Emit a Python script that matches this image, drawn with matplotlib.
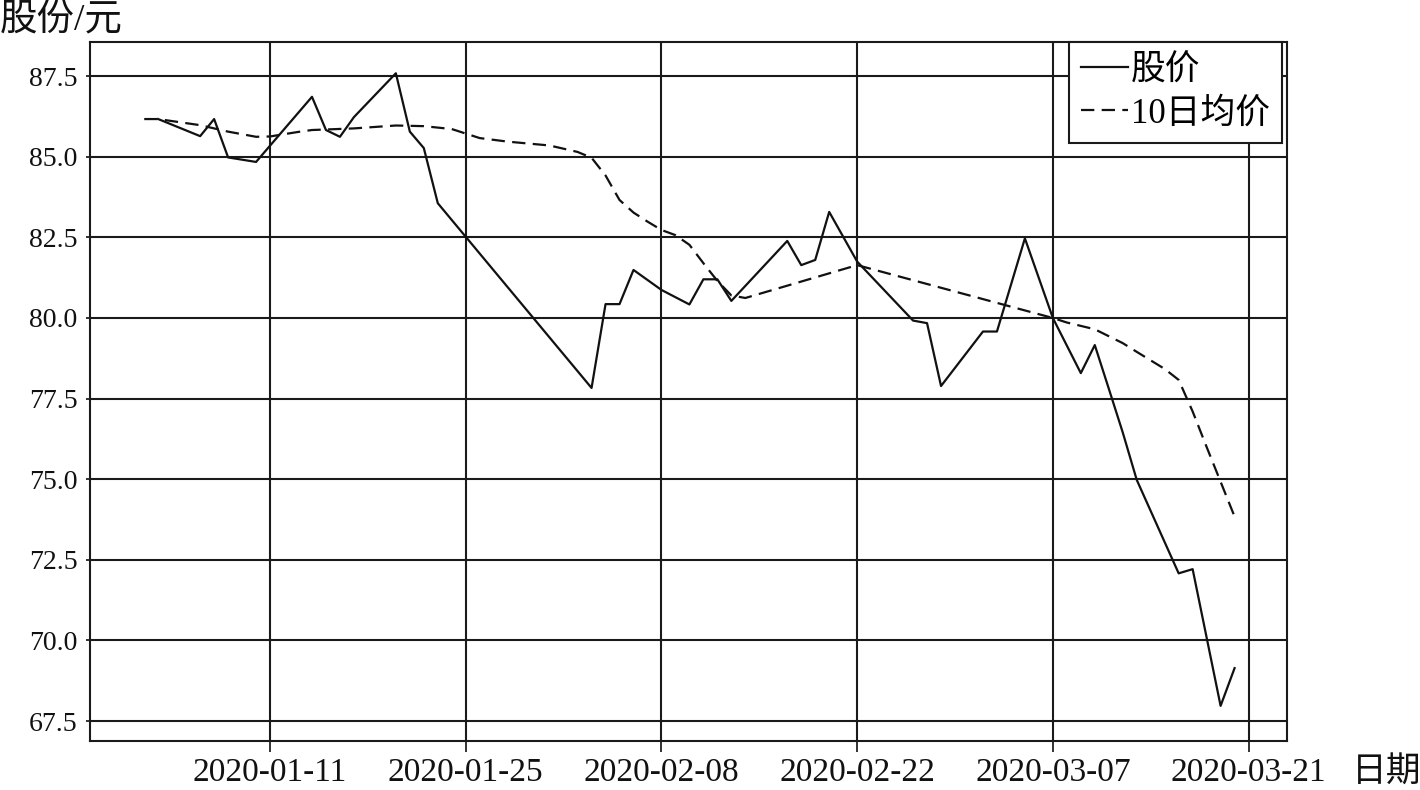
import datetime as dt
import matplotlib
matplotlib.use("Agg")
import matplotlib.pyplot as plt
import matplotlib.dates as mdates

plt.rcParams['font.family'] = ['Liberation Serif', 'Noto Sans CJK SC', 'DejaVu Sans']

price_dates = ["2020-01-03", "2020-01-06", "2020-01-07", "2020-01-08", "2020-01-10",
               "2020-01-14", "2020-01-15", "2020-01-16", "2020-01-17", "2020-01-20",
               "2020-01-21", "2020-01-22", "2020-01-23", "2020-02-03", "2020-02-04",
               "2020-02-05", "2020-02-06", "2020-02-08", "2020-02-10", "2020-02-11",
               "2020-02-12", "2020-02-13", "2020-02-17", "2020-02-18", "2020-02-19",
               "2020-02-20", "2020-02-22", "2020-02-26", "2020-02-27", "2020-02-28",
               "2020-03-02", "2020-03-03", "2020-03-05", "2020-03-07", "2020-03-09",
               "2020-03-10", "2020-03-11", "2020-03-12", "2020-03-13", "2020-03-16",
               "2020-03-17", "2020-03-19", "2020-03-20"]
price = [86.17, 85.64, 86.17, 84.98, 84.84,
         86.86, 85.83, 85.62, 86.23, 87.59,
         85.78, 85.27, 83.56, 77.83, 80.43,
         80.43, 81.49, 80.87, 80.42, 81.20,
         81.20, 80.53, 82.39, 81.64, 81.80,
         83.29, 81.75, 79.92, 79.84, 77.89,
         79.58, 79.58, 82.47, 80.00, 78.29,
         79.16, 77.81, 76.45, 74.98, 72.08,
         72.21, 67.97, 69.14]

ma_dates = ["2020-01-02", "2020-01-03", "2020-01-06", "2020-01-08", "2020-01-10",
            "2020-01-11", "2020-01-13", "2020-01-14", "2020-01-17", "2020-01-20",
            "2020-01-22", "2020-01-24", "2020-01-26", "2020-01-28", "2020-01-31",
            "2020-02-02", "2020-02-03", "2020-02-04", "2020-02-05", "2020-02-06",
            "2020-02-07", "2020-02-08", "2020-02-09", "2020-02-10", "2020-02-11",
            "2020-02-12", "2020-02-13", "2020-02-14", "2020-02-22", "2020-03-07",
            "2020-03-08", "2020-03-10", "2020-03-12", "2020-03-13", "2020-03-15",
            "2020-03-16", "2020-03-17", "2020-03-18", "2020-03-19", "2020-03-20"]
ma10 = [86.17, 86.17, 85.98, 85.78, 85.62,
        85.63, 85.77, 85.83, 85.88, 85.97,
        85.95, 85.86, 85.58, 85.47, 85.35,
        85.15, 84.97, 84.42, 83.66, 83.27,
        82.99, 82.73, 82.57, 82.27, 81.70,
        81.15, 80.70, 80.62, 81.64, 80.00,
        79.86, 79.65, 79.22, 78.95, 78.42,
        78.08, 77.10, 76.00, 74.92, 73.84]

xtick_labels = ["2020-01-11", "2020-01-25", "2020-02-08", "2020-02-22", "2020-03-07", "2020-03-21"]
ytick_values = [67.5, 70.0, 72.5, 75.0, 77.5, 80.0, 82.5, 85.0, 87.5]

to_dt = lambda s: dt.datetime.strptime(s, "%Y-%m-%d")
px = [to_dt(s) for s in price_dates]
mx = [to_dt(s) for s in ma_dates]
xt = [to_dt(s) for s in xtick_labels]

W, H = 1420, 790
fig = plt.figure(figsize=(W / 100, H / 100), dpi=100)
ax = fig.add_axes([90 / W, 49 / H, 1197 / W, 699 / H])

ax.plot(px, price, color='#111111', lw=1.6, label='股价', zorder=3)
ax.plot(mx, ma10, color='#111111', lw=1.6, ls=(0, (6, 3.3)), label='10日均价', zorder=3)

base = to_dt("2020-01-11")
ax.set_xlim(base - dt.timedelta(days=12.88), base + dt.timedelta(days=72.75))
ax.set_ylim(66.88, 88.56)

ax.set_xticks(xt)
ax.set_xticklabels(xtick_labels)
ax.set_yticks(ytick_values)
ax.set_yticklabels([f"{v:.1f}" for v in ytick_values])

ax.grid(True, color='#1a1a1a', lw=1.5, zorder=1)
ax.set_axisbelow(True)
for sp in ax.spines.values():
    sp.set_color('#1a1a1a')
    sp.set_linewidth(1.5)
ax.tick_params(axis='x', direction='out', length=8, width=1.2, pad=4, labelsize=24, colors='#111111')
ax.tick_params(axis='y', direction='out', length=3, width=1.2, pad=6, labelsize=20, colors='#111111')

leg = ax.legend(loc='upper right', bbox_to_anchor=(0.996, 1.0), borderaxespad=0,
                fontsize=25, frameon=True, fancybox=False, framealpha=1,
                edgecolor='#1a1a1a', handlelength=1.35, handletextpad=0.1,
                borderpad=0.35, labelspacing=0.3)
leg.get_frame().set_linewidth(1.5)

fig.text(0 / W, 1 - 20 / H, '股份/元', fontsize=27, ha='left', va='center', color='#111111')
fig.text(1352 / W, 1 - 773 / H, '日期', fontsize=25, ha='left', va='center', color='#111111')

fig.savefig('out.png', dpi=100)
